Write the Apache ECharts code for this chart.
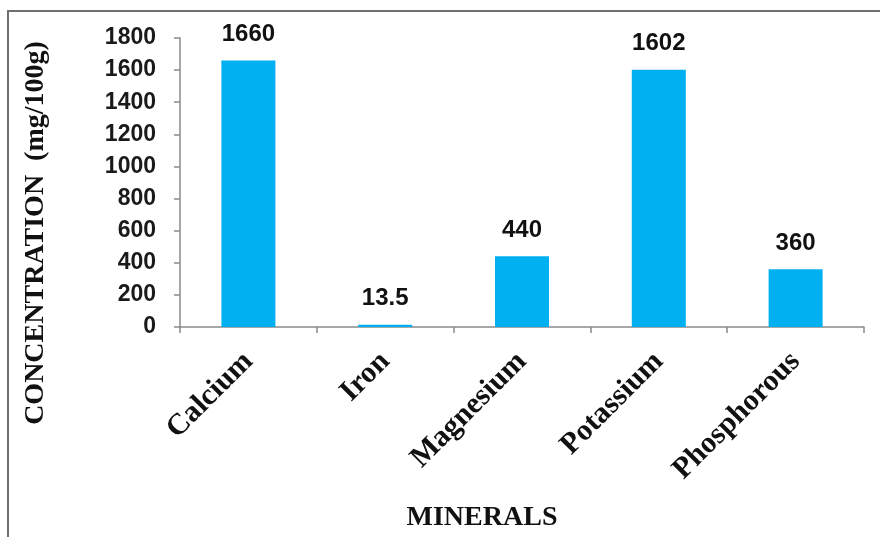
<!DOCTYPE html>
<html>
<head>
<meta charset="utf-8">
<script src="https://cdn.jsdelivr.net/npm/echarts@6/dist/echarts.min.js"></script>
<style>
  html, body { margin: 0; padding: 0; background: #ffffff; }
  #chart { width: 880px; height: 537px; }
</style>
</head>
<body>
<div id="chart"></div>
<script>
// Mineral content (mg per 100 g)
const minerals = ['Calcium', 'Iron', 'Magnesium', 'Potassium', 'Phosphorous'];
const concentration = [1660, 13.5, 440, 1602, 360];
const yTicks = { min: 0, max: 1800, step: 200 };

const serif = '"Liberation Serif", "Times New Roman", serif';
const sans = '"Liberation Sans", Arial, sans-serif';
const axisGrey = '#8a8a8a';

const chart = echarts.init(document.getElementById('chart'), null, { renderer: 'canvas' });

chart.setOption({
  animation: false,
  backgroundColor: '#ffffff',
  grid: { left: 180, right: 16, top: 38, bottom: 210, containLabel: false },
  xAxis: {
    type: 'category',
    data: minerals,
    boundaryGap: true,
    axisLine: { show: true, lineStyle: { color: axisGrey, width: 1.5 } },
    axisTick: { show: true, length: 6, alignWithLabel: false, lineStyle: { color: axisGrey, width: 1.5 } },
    axisLabel: {
      rotate: 45,
      margin: 30,
      interval: 0,
      fontFamily: serif,
      fontWeight: 'bold',
      fontSize: 30,
      color: '#111111'
    }
  },
  yAxis: {
    type: 'value',
    min: yTicks.min,
    max: yTicks.max,
    interval: yTicks.step,
    splitLine: { show: false },
    axisLine: { show: true, lineStyle: { color: axisGrey, width: 1.5 } },
    axisTick: { show: true, inside: false, length: 6, lineStyle: { color: axisGrey, width: 1.5 } },
    axisLabel: {
      margin: 24,
      fontFamily: sans,
      fontWeight: 'bold',
      fontSize: 23,
      color: '#1a1a1a',
      formatter: v => String(v)
    }
  },
  series: [{
    type: 'bar',
    data: concentration,
    barWidth: 54,
    itemStyle: { color: '#00B0F0' },
    label: {
      show: true,
      position: 'top',
      distance: 14,
      fontFamily: sans,
      fontWeight: 'bold',
      fontSize: 24,
      color: '#111111',
      formatter: p => String(p.value)
    }
  }],
  graphic: [
    {
      type: 'rect',
      silent: true,
      z: -1,
      shape: { x: 8, y: 11, width: 1000, height: 1000 },
      style: { fill: 'none', stroke: '#6f6f6f', lineWidth: 2 }
    },
    {
      type: 'text',
      x: 36,
      y: 233,
      rotation: Math.PI / 2,
      style: {
        text: 'CONCENTRATION  (mg/100g)',
        font: 'bold 28px ' + serif,
        fill: '#111111',
        textAlign: 'center',
        textVerticalAlign: 'middle'
      }
    },
    {
      type: 'text',
      x: 482,
      y: 518,
      style: {
        text: 'MINERALS',
        font: 'bold 28px ' + serif,
        fill: '#111111',
        textAlign: 'center',
        textVerticalAlign: 'middle'
      }
    }
  ]
});
</script>
</body>
</html>
